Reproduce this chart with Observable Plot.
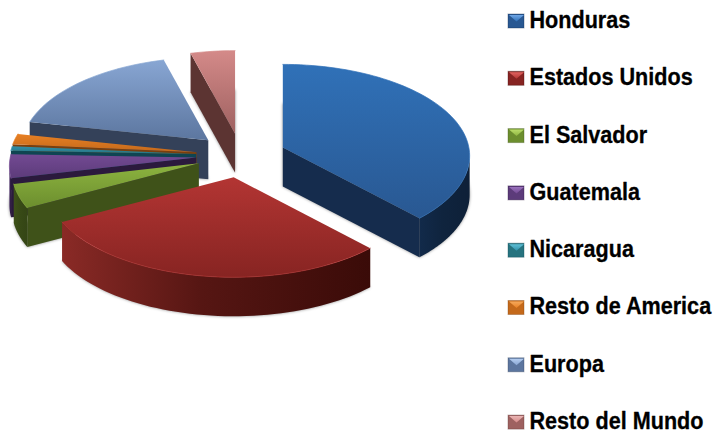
<!DOCTYPE html>
<html>
<head>
<meta charset="utf-8">
<script src="https://cdn.jsdelivr.net/npm/d3@7"></script>
<script src="https://cdn.jsdelivr.net/npm/@observablehq/plot@0.6"></script>
<style>html,body{margin:0;padding:0;background:#fff}</style>
</head>
<body>
<div id="chart"></div>
<script>
// Data
const categories = ["Honduras","Estados Unidos","El Salvador","Guatemala","Nicaragua","Resto de America","Europa","Resto del Mundo"];
const shares = [38.0, 29.2, 4.2, 4.2, 0.8, 1.9, 17.5, 4.2];

// Palette
const topLight = ["#3071b8","#b33533","#8db440","#734a93","#3190aa","#e88024","#88a6d3","#d48a89"];
const topDark  = ["#295892","#872422","#6c8e2e","#5c3b7a","#26737f","#c4691b","#5c769f","#9e6160"];
const radial   = ["#152c4d","#3f0e0b","#3f5219","#2b1a3d","#0f4552","#7a3f0d","#344159","#5c3432"];
const arcLeft  = ["#122a4a","#8a2a26","#3f5219","#4a2f68","#0f4552","#7a3f0d","#344159","#5c3432"];
const arcRight = ["#0e2038","#3a0b08","#344515","#2b1a3d","#0f4552","#7a3f0d","#344159","#5c3432"];
const swatchTop = ["#6fa6e6","#e0625f","#b9dc68","#9a72bd","#5fc0d6","#f5a95c","#b4cdf0","#eab4b3"];

// Projection of the tilted pie
const C = [240.5, 155], R = 186, K = 90.7, E = 0.093, EXPLODE = 45, TILT = 0.49, DEPTH = 39;
const rad = Math.PI / 180;
const project = (o, t) => {
  const p = 1 / (1 + E * Math.cos(t));
  return [o[0] + R * Math.sin(t) * p, o[1] - K * Math.cos(t) * p];
};
const down = ([x, y]) => [x, y + DEPTH];
const poly = pts => pts.map(([x, y]) => ({x, y}));

const arcs = d3.pie().sort(null)(shares);
const marks = [];
const line = (pts, fill, extra = {}) =>
  marks.push(Plot.line(poly(pts), {x: "x", y: "y", fill, stroke: "none", curve: "linear", ...extra}));

// Gradients
marks.push(() => {
  const svg = d3.create("svg:g");
  const defs = svg.append("defs");
  categories.forEach((_, i) => {
    const a = defs.append("linearGradient").attr("id", `top${i}`).attr("x1", 0).attr("x2", 0).attr("y1", 0).attr("y2", 1);
    a.append("stop").attr("offset", 0).attr("stop-color", topLight[i]);
    a.append("stop").attr("offset", 1).attr("stop-color", topDark[i]);
    const b = defs.append("linearGradient").attr("id", `arc${i}`).attr("x1", 0).attr("x2", 1).attr("y1", 0).attr("y2", 0);
    b.append("stop").attr("offset", 0).attr("stop-color", arcLeft[i]);
    b.append("stop").attr("offset", 0.45).attr("stop-color", d3.interpolateRgb(arcLeft[i], arcRight[i])(0.65));
    b.append("stop").attr("offset", 1).attr("stop-color", arcRight[i]);
    const s = defs.append("linearGradient").attr("id", `sw${i}`).attr("x1", 0).attr("x2", 0).attr("y1", 0).attr("y2", 1);
    s.append("stop").attr("offset", 0).attr("stop-color", swatchTop[i]);
    s.append("stop").attr("offset", 1).attr("stop-color", topLight[i]);
  });
  return svg.node();
});

// Painter's order, far slices first
const BLUR = "blur(0.5px)";
for (const i of [7, 6, 5, 4, 3, 2, 0, 1]) {
  const {startAngle: a, endAngle: b} = arcs[i];
  const m = (a + b) / 2;
  const apex = [C[0] + EXPLODE * Math.sin(m), C[1] - EXPLODE * TILT * Math.cos(m)];
  const n = Math.max(2, Math.ceil((b - a) / (2 * rad)));
  const outer = d3.range(n + 1).map(k => a + (b - a) * k / n);
  const rim = outer.map(t => project(apex, t));
  // soft contact shadow of the base
  line([apex, ...rim].map(down), "#000", {fillOpacity: 0.45, imageFilter: "blur(1.6px)"});
  // radial walls facing the viewer
  if (Math.sin(a) < -1e-6) {
    const e = project(apex, a);
    line([e, apex, down(apex), down(e)], radial[i], {imageFilter: BLUR});
  }
  if (Math.sin(b) > 1e-6) {
    const e = project(apex, b);
    line([e, apex, down(apex), down(e)], radial[i], {imageFilter: BLUR});
  }
  // curved wall
  const t0 = Math.max(a, 95.4 * rad), t1 = Math.min(b, 264.6 * rad);
  if (t1 > t0) {
    const ts = d3.range(n + 1).map(k => t0 + (t1 - t0) * k / n);
    const r = ts.map(t => project(apex, t));
    line([...r, ...r.slice().reverse().map(down)], `url(#arc${i})`, {imageFilter: BLUR});
  }
  // top
  line([apex, ...rim], `url(#top${i})`, {imageFilter: BLUR});
  // bevel highlight along the rim
  marks.push(Plot.line(poly(rim), {x: "x", y: "y", stroke: topLight[i], strokeWidth: 1, strokeOpacity: 0.7, curve: "linear", imageFilter: BLUR}));
}

// Legend
const rowY = i => 22 + 57.3 * i;
categories.forEach((_, i) => {
  const y = rowY(i);
  marks.push(Plot.rect([i], {x1: () => 508, x2: () => 524, y1: () => y - 8, y2: () => y + 6, fill: topDark[i], stroke: radial[i], strokeOpacity: 0.35, imageFilter: BLUR}));
  line([[508.5, y - 7.5], [523.5, y - 7.5], [516, y - 1]], `url(#sw${i})`, {imageFilter: BLUR});
});
marks.push(Plot.text(categories, {
  x: () => 529, y: (d, i) => rowY(i) - 2.2,
  text: d => d, textAnchor: "start", lineAnchor: "middle",
  fontFamily: "Liberation Sans, Arial, sans-serif", fontWeight: "bold", fontSize: 24, fill: "#000",
  stroke: "#000", strokeWidth: 0.3,
  render(index, scales, values, dims, ctx, next) {
    const g = next(index, scales, values, dims, ctx);
    d3.select(g).selectAll("text").attr("transform", function () {
      return (this.getAttribute("transform") || "") + " scale(0.9,1)";
    });
    return g;
  }
}));

const chart = Plot.plot({
  width: 714, height: 434,
  margin: 0,
  x: {domain: [0, 714], range: [0, 714], axis: null},
  y: {domain: [0, 434], range: [0, 434], axis: null},
  style: {background: "#fff", overflow: "visible"},
  marks
});
document.getElementById("chart").append(chart);
</script>
</body>
</html>
